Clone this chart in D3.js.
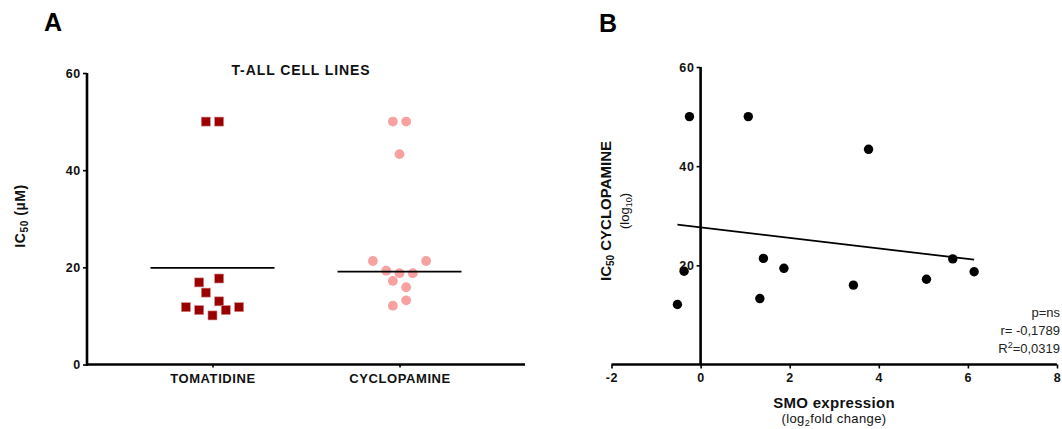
<!DOCTYPE html>
<html><head><meta charset="utf-8">
<script src="https://cdn.jsdelivr.net/npm/d3@7"></script>
<style>
body{margin:0;background:#fff;}
text{font-family:"Liberation Sans",Arial,sans-serif;}
</style></head>
<body><svg id="c" width="1062" height="429"></svg>
<script>
// ---- Panel A data ----
const categories = ["TOMATIDINE", "CYCLOPAMINE"];
const tomatidineValues = [50, 50, 16.9, 17.7, 14.8, 13.0, 11.8, 11.2, 10.1, 11.2, 11.8];
const tomatidineJitter = [-1, 1, -2, 1, -1, 1, -4, -2, 0, 2, 4];
const cyclopamineValues = [50, 50, 43.3, 21.3, 21.3, 19.3, 18.8, 18.8, 17.2, 15.9, 13.2, 12.1];
const cyclopamineJitter = [-1, 1, 0, -4, 4, -2, 0, 2, -1, 1, 1, -1];
const centerLines = [19.9, 19.1];
const yTicksA = [0, 20, 40, 60];

// ---- Panel B data ----
const smoExpression = [-0.25, 1.07, 3.77, 1.41, 5.66, 1.87, -0.37, 6.14, 5.07, 3.43, 1.33, -0.52];
const ic50Cyclopamine = [50, 50, 43.4, 21.4, 21.3, 19.4, 18.8, 18.7, 17.2, 16.0, 13.3, 12.1];
const xTicksB = [-2, 0, 2, 4, 6, 8];
const yTicksB = [20, 40, 60];
const statsLines = ["p=ns", "r= -0,1789", "R\u00b2=0,0319"];

const svg = d3.select("#c");
const black = "#000";

function styleAxis(a, fs, ls) {
  a.select(".domain").attr("stroke", black).attr("stroke-width", 2.6);
  a.selectAll(".tick line").attr("stroke", black).attr("stroke-width", 1.6);
  a.selectAll(".tick text").attr("fill", "#111").style("font-size", fs + "px").style("font-weight", "bold")
    .style("letter-spacing", ls + "px")
    .style("font-family", "'Liberation Sans',Arial,sans-serif");
}

// ================= Panel A =================
const xA = d3.scalePoint().domain(categories).range([87, 525]).padding(0.671);
const yA = d3.scaleLinear().domain([0, 60]).range([364.5, 73]);
const jitterStep = 6.65;

const gA = svg.append("g");
const axYA = gA.append("g").attr("transform", "translate(87,0)")
  .call(d3.axisLeft(yA).tickValues(yTicksA).tickSize(4).tickPadding(2));
const axXA = gA.append("g").attr("transform", "translate(0,364.5)")
  .call(d3.axisBottom(xA).tickSize(3).tickPadding(6));
styleAxis(axYA, 12.5, 0.7);
styleAxis(axXA, 13, 0.6);
axYA.select(".domain").attr("d", `M0,${yA(60)}V${yA(0)+1.3}`);
axXA.select(".domain").attr("d", `M87,0H525`);

// tomatidine squares
const sq = 9;
gA.selectAll("rect.tom").data(tomatidineValues).join("rect")
  .attr("class", "tom")
  .attr("x", (d, i) => xA("TOMATIDINE") + tomatidineJitter[i] * jitterStep - sq / 2)
  .attr("y", d => yA(d) - sq / 2)
  .attr("width", sq).attr("height", sq)
  .attr("fill", "#9a0000").attr("stroke", "#d08a8a").attr("stroke-width", 0.6);

// cyclopamine circles
gA.selectAll("circle.cyc").data(cyclopamineValues).join("circle")
  .attr("class", "cyc")
  .attr("cx", (d, i) => xA("CYCLOPAMINE") + cyclopamineJitter[i] * jitterStep)
  .attr("cy", d => yA(d))
  .attr("r", 4.9)
  .attr("fill", "#f7a1a1");

// center lines
gA.selectAll("line.mid").data(categories).join("line")
  .attr("class", "mid")
  .attr("x1", d => xA(d) - 62).attr("x2", d => xA(d) + 62)
  .attr("y1", (d, i) => yA(centerLines[i])).attr("y2", (d, i) => yA(centerLines[i]))
  .attr("stroke", black).attr("stroke-width", 1.8);

// title & labels
gA.append("text").attr("x", 301).attr("y", 75).attr("text-anchor", "middle")
  .style("font-size", "14px").style("font-weight", "bold").style("letter-spacing", "0.9px")
  .attr("fill", "#111").text("T-ALL CELL LINES");
const ylA = gA.append("text").attr("transform", "translate(25,216) rotate(-90)")
  .attr("text-anchor", "middle").style("font-size", "14px").style("font-weight", "bold")
  .style("letter-spacing", "0.6px").attr("fill", "#111");
ylA.append("tspan").text("IC");
ylA.append("tspan").attr("dy", 3).style("font-size", "10px").text("50");
ylA.append("tspan").attr("dy", -3).text(" (\u00b5M)");
gA.append("text").attr("x", 44).attr("y", 31).style("font-size", "25px").style("font-weight", "bold").text("A");

// ================= Panel B =================
const xB = d3.scaleLinear().domain([-2, 8]).range([611.5, 1057]);
const yB = d3.scaleLinear().domain([0, 60]).range([364.5, 67]);
const gB = svg.append("g");

const axYB = gB.append("g").attr("transform", `translate(${xB(0)},0)`)
  .call(d3.axisLeft(yB).tickValues(yTicksB).tickSize(4).tickPadding(2));
const axXB = gB.append("g").attr("transform", `translate(0,${yB(0)})`)
  .call(d3.axisBottom(xB).tickValues(xTicksB).tickFormat(d => String(d)).tickSize(4).tickPadding(5));
styleAxis(axYB, 12.5, 0.7);
styleAxis(axXB, 12.5, 0.7);
axYB.select(".domain").attr("d", `M0,${yB(60)}V${yB(0)}`);
axXB.select(".domain").attr("d", `M${xB(-2)},0H${xB(8)}`);

// regression from data
const n = smoExpression.length;
const mx = d3.mean(smoExpression), my = d3.mean(ic50Cyclopamine);
let sxy = 0, sxx = 0;
for (let i = 0; i < n; i++) { sxy += (smoExpression[i] - mx) * (ic50Cyclopamine[i] - my); sxx += (smoExpression[i] - mx) ** 2; }
const slope = sxy / sxx, intercept = my - slope * mx;
const [xmin, xmax] = d3.extent(smoExpression);
gB.append("line")
  .attr("x1", xB(xmin)).attr("y1", yB(intercept + slope * xmin))
  .attr("x2", xB(xmax)).attr("y2", yB(intercept + slope * xmax))
  .attr("stroke", black).attr("stroke-width", 1.8);

gB.selectAll("circle.pt").data(smoExpression).join("circle")
  .attr("class", "pt")
  .attr("cx", d => xB(d)).attr("cy", (d, i) => yB(ic50Cyclopamine[i]))
  .attr("r", 4.7).attr("fill", black);

// stats
gB.selectAll("text.st").data(statsLines).join("text")
  .attr("class", "st").attr("x", 1060).attr("y", (d, i) => 317 + i * 18)
  .attr("text-anchor", "end").style("font-size", "13px").attr("fill", "#222")
  .each(function (d) {
    const t = d3.select(this);
    if (d.startsWith("R\u00b2")) {
      t.append("tspan").text("R");
      t.append("tspan").attr("dy", -5).style("font-size", "9px").text("2");
      t.append("tspan").attr("dy", 5).text(d.slice(2));
    } else t.text(d);
  });

// axis labels
gB.append("text").attr("x", 834).attr("y", 408).attr("text-anchor", "middle")
  .style("font-size", "15px").style("font-weight", "bold").style("letter-spacing", "0.3px")
  .attr("fill", "#111").text("SMO expression");
const xlB2 = gB.append("text").attr("x", 834).attr("y", 423).attr("text-anchor", "middle")
  .style("font-size", "13px").style("letter-spacing", "0.4px").attr("fill", "#111");
xlB2.append("tspan").text("(log");
xlB2.append("tspan").attr("dy", 3).style("font-size", "9px").text("2");
xlB2.append("tspan").attr("dy", -3).text("fold change)");

const ylB = gB.append("text").attr("transform", "translate(611,211) rotate(-90)")
  .attr("text-anchor", "middle").style("font-size", "15px").style("font-weight", "bold").attr("fill", "#111");
ylB.append("tspan").text("IC");
ylB.append("tspan").attr("dy", 3).style("font-size", "10px").text("50");
ylB.append("tspan").attr("dy", -3).text(" CYCLOPAMINE");
const ylB2 = gB.append("text").attr("transform", "translate(629,211) rotate(-90)")
  .attr("text-anchor", "middle").style("font-size", "13px").attr("fill", "#111");
ylB2.append("tspan").text("(log");
ylB2.append("tspan").attr("dy", 3).style("font-size", "9px").text("10");
ylB2.append("tspan").attr("dy", -3).text(")");

gB.append("text").attr("x", 599).attr("y", 32).style("font-size", "25px").style("font-weight", "bold").text("B");
</script></body></html>
